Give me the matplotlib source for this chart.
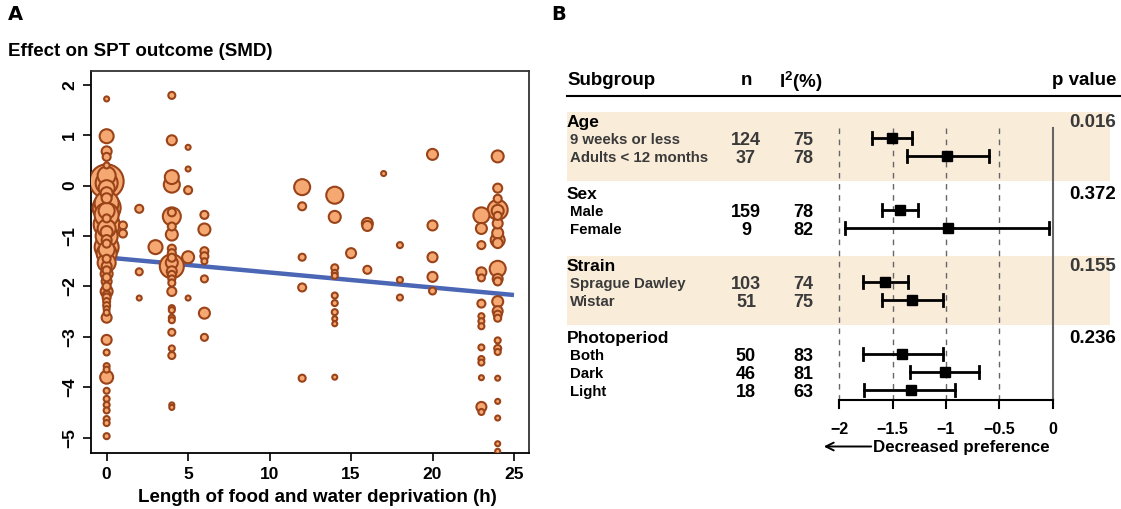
import matplotlib
matplotlib.use('Agg')
import matplotlib.pyplot as plt
from matplotlib.patches import Rectangle
import numpy as np

plt.rcParams['font.family'] = ['Liberation Sans', 'DejaVu Sans']
plt.rcParams['font.weight'] = 'bold'
plt.rcParams['mathtext.fontset'] = 'custom'
plt.rcParams['mathtext.rm'] = 'Liberation Sans:bold'
plt.rcParams['mathtext.it'] = 'Liberation Sans:bold'
plt.rcParams['mathtext.bf'] = 'Liberation Sans:bold'

# ---------------- Panel A data (meta-regression bubble plot) ----------------
hours_0 = [0] * 53
smd_0 = [1.72, 0.98, 0.68, 0.57, 0.40, 0.20, 0.085, 0.05, -0.05, -0.15, -0.25, -0.35,
         -0.44, -0.50, -0.58, -0.65, -0.77, -0.85, -0.92, -1.00, -1.08, -1.15, -1.22,
         -1.27, -1.35, -1.45, -1.53, -1.60, -1.68, -1.75, -1.82, -1.90, -2.00, -2.10,
         -2.17, -2.22, -2.30, -2.38, -2.45, -2.52, -2.62, -3.06, -3.31, -3.58, -3.65,
         -3.80, -4.07, -4.23, -4.35, -4.46, -4.63, -4.71, -4.97]
wt_0 = [2.5, 7, 5, 4, 3, 9, 17, 11, 8, 6, 5, 12,
        14, 8, 12, 4, 13, 9, 6, 11, 5, 4, 12,
        8, 10, 4, 9, 5, 4, 6, 4, 5, 4, 6,
        4, 4, 3.5, 3.5, 3, 3, 5, 5, 3, 3, 3,
        6.5, 3, 3, 3, 3, 3, 3, 3]

hours_other = ([1, 1] + [2] * 3 + [3] + [4] * 27 + [5] * 5 + [6] * 8 + [12] * 5 +
               [14] * 11 + [15] + [16] * 3 + [17] + [18] * 3 + [20] * 5 + [23] * 15 +
               [24] * 25)
smd_other = [-0.79, -0.95,
             -0.46, -1.71, -2.23,
             -1.22,
             1.79, 0.90, 0.17, 0.02, -0.53, -0.61, -0.81, -0.97, -1.25, -1.34, -1.43,
             -1.53, -1.60, -1.70, -1.77, -1.85, -1.93, -2.10, -2.43, -2.47, -2.62, -2.67,
             -2.91, -3.23, -3.37, -4.35, -4.40,
             0.76, 0.33, -0.09, -1.42, -2.23,
             -0.58, -0.87, -1.30, -1.40, -1.50, -1.85, -2.53, -3.01,
             -0.03, -0.41, -1.42, -2.02, -3.82,
             -0.19, -0.62, -1.63, -1.73, -1.79, -2.18, -2.33, -2.51, -2.64, -2.74, -3.80,
             -1.34,
             -0.75, -0.80, -1.67,
             0.24,
             -1.18, -1.87, -2.22,
             0.62, -0.79, -1.42, -1.81, -2.09,
             -0.59, -0.85, -1.18, -1.72, -1.83, -2.34, -2.59, -2.69, -2.79, -3.21, -3.44,
             -3.51, -3.81, -4.39, -4.49,
             0.58, -0.05, -0.26, -0.48, -0.50, -0.60, -0.75, -0.94, -1.08, -1.14, -1.65,
             -1.85, -1.90, -2.30, -2.49, -2.56, -2.63, -3.07, -3.23, -3.30, -3.82, -4.28,
             -4.61, -5.12, -5.27]
wt_other = [4, 4,
            4, 3.5, 2.5,
            7,
            3.5, 5, 7, 8, 4, 9, 4, 6, 4, 4, 4,
            6, 12, 5, 4, 3.5, 3.5, 4.5, 3, 3, 3, 3,
            3.5, 3, 3.5, 2.5, 2.5,
            2.5, 2.5, 4, 6, 2.5,
            4, 6, 4, 4, 3, 3.5, 5.5, 3.5,
            8, 4, 3.5, 4, 3.5,
            8.5, 6, 3.5, 3, 3, 3, 3, 3, 2.5, 2.5, 2.5,
            5,
            5.5, 5, 4,
            2.5,
            3, 3, 3,
            5.5, 5, 5, 5, 3.5,
            8, 5.5, 4, 5, 3.5, 4, 3, 3, 3, 3, 3,
            3, 2.5, 5, 3,
            6, 4.5, 4, 10, 6, 4, 5, 5.5, 7, 5, 8,
            5, 4, 5.5, 5, 4, 3.5, 3, 3.5, 3, 2.5, 2.5,
            2.5, 2.5, 2.5]

reg_intercept = -1.425
reg_slope = -0.0298
reg_range = [0, 25]

# ---------------- Panel B data (subgroup forest plot) ----------------
group_names = ['Age', 'Sex', 'Strain', 'Photoperiod']
group_p = ['0.016', '0.372', '0.155', '0.236']
group_size = [2, 2, 2, 3]
sub_labels = ['9 weeks or less', 'Adults < 12 months', 'Male', 'Female',
              'Sprague Dawley', 'Wistar', 'Both', 'Dark', 'Light']
sub_n = [124, 37, 159, 9, 103, 51, 50, 46, 18]
sub_i2 = [75, 78, 78, 82, 74, 75, 83, 81, 63]
sub_est = [-1.51, -0.99, -1.43, -0.98, -1.57, -1.32, -1.41, -1.01, -1.33]
sub_lo = [-1.69, -1.37, -1.60, -1.95, -1.78, -1.60, -1.78, -1.34, -1.77]
sub_hi = [-1.32, -0.60, -1.26, -0.03, -1.36, -1.03, -1.03, -0.69, -0.92]
forest_ticks = [-2, -1.5, -1, -0.5, 0]

# ---------------- Figure ----------------
W, H = 1121, 509
fig = plt.figure(figsize=(W / 100, H / 100), dpi=100)

fill_col = '#f5a872'
edge_col = '#9a4318'

# Panel A
axA = fig.add_axes([91 / W, 1 - 453.3 / H, (529.3 - 91) / W, (453.3 - 70.7) / H])
hrs = np.array(hours_0 + hours_other, dtype=float)
vals = np.array(smd_0 + smd_other, dtype=float)
wts = np.array(wt_0 + wt_other, dtype=float)
order = np.argsort(-wts, kind='stable')
sizes = (2 * wts * 0.72) ** 2
xr = np.array(reg_range, dtype=float)
axA.plot(xr, reg_intercept + reg_slope * xr, color='#4a66b4', lw=3.2,
         solid_capstyle='butt', zorder=2)
axA.scatter(hrs[order], vals[order], s=sizes[order], c=fill_col, edgecolors=edge_col,
            linewidths=1.5, zorder=3)
axA.set_xlim(-0.96, 25.94)
axA.set_ylim(-5.31, 2.28)
axA.set_xticks([0, 5, 10, 15, 20, 25])
axA.set_yticks(range(-5, 3))
axA.tick_params(axis='both', direction='out', length=6, width=1.2, labelsize=12.5,
                pad=4)
axA.tick_params(axis='y', labelrotation=90)
for lab in axA.get_yticklabels():
    lab.set_va('center')
for sp in axA.spines.values():
    sp.set_linewidth(1.3)
    sp.set_color('#333333')
axA.spines['left'].set_color('black')
axA.spines['bottom'].set_color('black')

fig.text(8 / W, 1 - 15 / H, 'A', fontsize=14, fontweight='heavy', ha='left', va='center',
         family=['DejaVu Sans'])
fig.text(551 / W, 1 - 15 / H, 'B', fontsize=14, fontweight='heavy', ha='left', va='center',
         family=['DejaVu Sans'])
fig.text(8 / W, 1 - 52 / H, 'Effect on SPT outcome (SMD)', fontsize=13.5, ha='left',
         va='center')
fig.text(317 / W, 1 - 497 / H, 'Length of food and water deprivation (h)', fontsize=13.5,
         ha='center', va='center')

# Panel B
def px2x(px):
    return -2 + (px - 839.3) / 106.7

axB = fig.add_axes([555 / W, 1 - 470 / H, (W - 555) / W, 415 / H])
axB.set_xlim(px2x(555), px2x(W))
axB.set_ylim(470, 55)
axB.axis('off')

col_sub = px2x(567)
col_lab = px2x(570)
col_n = px2x(746)
col_i2 = px2x(803)
col_p = px2x(1116)

axB.text(col_sub, 79, 'Subgroup', fontsize=13.5, ha='left', va='center_baseline')
axB.text(col_n, 79, 'n', fontsize=13.5, ha='center', va='center_baseline')
axB.text(px2x(779), 79, 'I$^2$(%)', fontsize=13.5, ha='left', va='center_baseline')
axB.text(col_p, 79, 'p value', fontsize=13.5, ha='right', va='center_baseline')
axB.plot([px2x(567), px2x(1120)], [96, 96], color='black', lw=1.5)

row = 0
for g, name in enumerate(group_names):
    gy = 121 + 72 * g
    shaded = g % 2 == 0
    tcol = '#3a3a3a' if shaded else 'black'
    if shaded:
        axB.add_patch(Rectangle((px2x(567), gy - 8.5), px2x(1110) - px2x(567), 68.5,
                                facecolor='#f9ecd9', edgecolor='none', zorder=0))
    axB.text(col_sub, gy, name, fontsize=12.5, ha='left', va='center_baseline',
             color='black')
    axB.text(col_p, gy, group_p[g], fontsize=13.5, ha='right', va='center_baseline',
             color=tcol)
    for k in range(group_size[g]):
        y = gy + 17.5 + 18 * k
        axB.text(col_lab, y, sub_labels[row], fontsize=10.8, ha='left',
                 va='center_baseline', color=tcol)
        axB.text(col_n, y, str(sub_n[row]), fontsize=13, ha='center',
                 va='center_baseline', color=tcol)
        axB.text(col_i2, y, str(sub_i2[row]), fontsize=13, ha='center',
                 va='center_baseline', color=tcol)
        axB.plot([sub_lo[row], sub_hi[row]], [y, y], color='black', lw=2, zorder=3)
        for xe in (sub_lo[row], sub_hi[row]):
            axB.plot([xe, xe], [y - 6, y + 6], color='black', lw=2, zorder=3)
        axB.plot(sub_est[row], y, marker='s', ms=7, color='black', zorder=4)
        row += 1

for t in forest_ticks[:-1]:
    axB.plot([t, t], [128, 400], color='#666666', lw=1, ls=(0, (4, 4)), zorder=1)
axB.plot([0, 0], [128, 400], color='#666666', lw=1.5, zorder=1)
axB.plot([forest_ticks[0], forest_ticks[-1]], [400, 400], color='black', lw=1.5)
for t in forest_ticks:
    axB.plot([t, t], [400, 408], color='black', lw=1.5)
    axB.text(t, 428, f'{t:g}'.replace('-', '\u2212'), fontsize=11.5, ha='center',
             va='center_baseline')
axB.annotate('', xy=(px2x(821), 446.5), xytext=(px2x(874), 446.5),
             arrowprops=dict(arrowstyle='->', lw=1.4, color='black', mutation_scale=14))
axB.text(px2x(873), 446.5, 'Decreased preference', fontsize=12.2, ha='left',
         va='center_baseline')

fig.savefig('out.png', dpi=100)
